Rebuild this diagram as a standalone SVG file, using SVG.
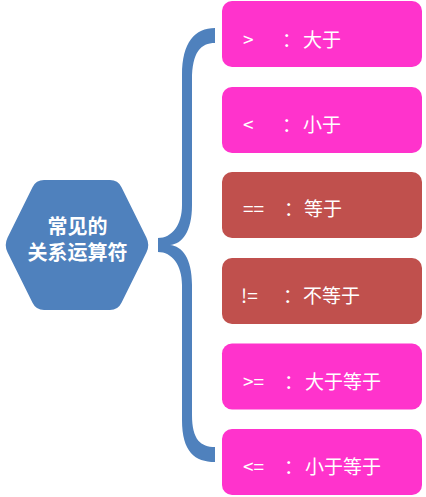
<svg xmlns="http://www.w3.org/2000/svg" width="426" height="497" viewBox="0 0 426 497">
<style>
.pink{fill:#FF33CC}
.red{fill:#C0504D}
.hex{fill:#4F81BD}
.brace{fill:#4F81BD}
.t{fill:#FFFFFF;font-family:"Noto Sans CJK SC","Liberation Sans",sans-serif;font-size:19px}
.ht{fill:#FFFFFF;font-family:"Noto Sans CJK SC","Liberation Sans",sans-serif;font-size:20px;font-weight:bold;text-anchor:middle}
</style>
<rect width="426" height="497" fill="#FFFFFF"/>
<g id="connectors">
<path class="brace" d="M215,28 L215,43 C201,43 192,52 192,80 L192,205 C192,232 182,244 170,245 C182,246 192,258 192,285 L192,415 C192,440 201,447 215,447 L215,462 C195,462 182,452 182,420 L182,285 C182,265 172,252 158,252 L158,238 C172,238 182,225 182,205 L182,75 C182,42 195,28 215,28 Z"/>
</g>
<g id="root">
<path class="hex" d="M32.5,187.2 Q36,180 44,180 L110,180 Q118,180 121.5,187.2 L146.5,237.8 Q150,245 146.5,252.2 L121.5,302.8 Q118,310 110,310 L44,310 Q36,310 32.5,302.8 L7.5,252.2 Q4,245 7.5,237.8 Z"/>
<text class="ht" x="77.5" y="233.5">常见的</text>
<text class="ht" x="77.5" y="260">关系运算符</text>
</g>
<g id="gt">
<rect class="pink" x="222" y="1" width="200" height="66" rx="10"/>
<text class="t" y="46.5"><tspan x="243">&gt;</tspan><tspan x="282">：</tspan><tspan x="303">大于</tspan></text>
</g>
<g id="lt">
<rect class="pink" x="222" y="87" width="200" height="66" rx="10"/>
<text class="t" y="132"><tspan x="243">&lt;</tspan><tspan x="282">：</tspan><tspan x="303">小于</tspan></text>
</g>
<g id="eq">
<rect class="red" x="222" y="172" width="200" height="66" rx="10"/>
<text class="t" y="216"><tspan x="243">==</tspan><tspan x="284">：</tspan><tspan x="304">等于</tspan></text>
</g>
<g id="ne">
<rect class="red" x="222" y="258" width="200" height="66" rx="10"/>
<text class="t" y="303"><tspan x="241">!=</tspan><tspan x="283">：</tspan><tspan x="303">不等于</tspan></text>
</g>
<g id="ge">
<rect class="pink" x="222" y="343.5" width="200" height="66" rx="10"/>
<text class="t" y="388.5"><tspan x="243">&gt;=</tspan><tspan x="284">：</tspan><tspan x="305">大于等于</tspan></text>
</g>
<g id="le">
<rect class="pink" x="222" y="429" width="200" height="66" rx="10"/>
<text class="t" y="474"><tspan x="243">&lt;=</tspan><tspan x="284">：</tspan><tspan x="305">小于等于</tspan></text>
</g>
</svg>
